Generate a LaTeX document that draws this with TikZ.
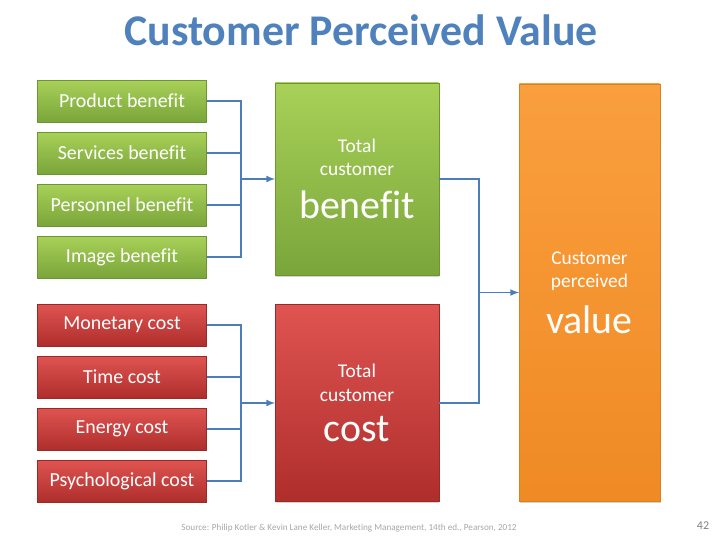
\documentclass[tikz,border=0pt]{standalone}
\usepackage{fontspec}
\setmainfont{Carlito}[Ligatures=NoCommon]
\usetikzlibrary{shadows}

\definecolor{gtop}{HTML}{A8D158}
\definecolor{gbot}{HTML}{7AA53A}
\definecolor{gline}{HTML}{6E9434}
\definecolor{rtop}{HTML}{DF5451}
\definecolor{rbot}{HTML}{AE2E2C}
\definecolor{rline}{HTML}{9A2A28}
\definecolor{otop}{HTML}{FA9F3E}
\definecolor{obot}{HTML}{EF8A24}
\definecolor{oline}{HTML}{D9801F}
\definecolor{linkblue}{HTML}{4A7EBB}
\definecolor{titleblue}{HTML}{4F81BD}

\newcommand{\bigword}[1]{{\fontsize{40}{40}\selectfont #1}}

\tikzset{
  box/.style={rectangle, draw, line width=0.4pt, text=white, align=center,
    drop shadow={opacity=0.35, shadow xshift=0.8pt, shadow yshift=-1.5pt}},
  benefit/.style={box, draw=gline, top color=gtop, bottom color=gbot,
    minimum width=170, minimum height=42, font=\fontsize{20}{22}\selectfont},
  cost/.style={box, draw=rline, top color=rtop, bottom color=rbot,
    minimum width=170, minimum height=42, font=\fontsize{20}{22}\selectfont},
  total/.style={box, font=\fontsize{19.5}{23.5}\selectfont},
  link/.style={linkblue, line width=1.3pt},
  arr/.style={link, line width=2pt, -latex}
}

\begin{document}
\begin{tikzpicture}[x=1bp,y=-1bp]
    \useasboundingbox (0,0) rectangle (720,540);

    \node[text=titleblue, font=\bfseries\fontsize{44}{48}\selectfont] (title) at (361,30) {Customer Perceived Value};

    % benefit side
    \node[benefit] (pb) at (122,101) {Product benefit};
    \node[benefit] (sb) at (122,153) {Services benefit};
    \node[benefit] (eb) at (122,205) {Personnel benefit};
    \node[benefit] (ib) at (122,257) {Image benefit};
    \node[total, draw=gline, top color=gtop, bottom color=gbot,
      minimum width=164, minimum height=193] (tb) at (357,179)
      {Total\\ customer\\[14pt] \bigword{benefit}};

    % cost side
    \node[cost] (mc) at (122,325) {Monetary cost};
    \node[cost] (tc) at (122,377) {Time cost};
    \node[cost] (ec) at (122,429) {Energy cost};
    \node[cost] (pc) at (122,481) {Psychological cost};
    \node[total, draw=rline, top color=rtop, bottom color=rbot,
      minimum width=164, minimum height=198] (tcc) at (357,403)
      {Total\\ customer\\[14pt] \bigword{cost}};

    % result
    \node[total, draw=oline, top color=otop, bottom color=obot,
      minimum width=141, minimum height=419] (cpv) at (589.5,292.5)
      {Customer\\ perceived\\[14pt] \bigword{value}};

    % connectors
    \coordinate (jb) at (241,179);
    \coordinate (jc) at (241,403);
    \coordinate (jv) at (479,292.5);

    \draw[link] (pb.east) -| (jb);
    \draw[link] (sb.east) -| (jb);
    \draw[link] (eb.east) -| (jb);
    \draw[link] (ib.east) -| (jb);
    \draw[arr] (jb) -- (tb);

    \draw[link] (mc.east) -| (jc);
    \draw[link] (tc.east) -| (jc);
    \draw[link] (ec.east) -| (jc);
    \draw[link] (pc.east) -| (jc);
    \draw[arr] (jc) -- (tcc);

    \draw[link] (tb.east) -| (jv);
    \draw[link] (tcc.east) -| (jv);
    \draw[arr] (jv) -- (cpv);

    \node[text=black!35, font=\fontsize{9.2}{11}\selectfont] (src) at (349,528)
      {Source: Philip Kotler \& Kevin Lane Keller, Marketing Management, 14th ed., Pearson, 2012};
    \node[text=black!50, font=\fontsize{12}{14}\selectfont] (pg) at (703,526) {42};
\end{tikzpicture}
\end{document}
